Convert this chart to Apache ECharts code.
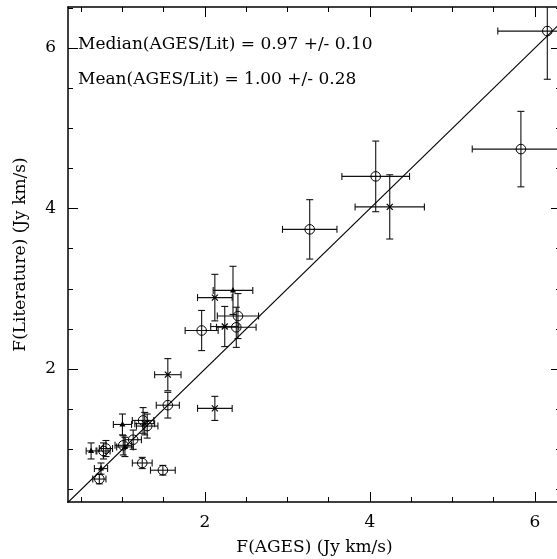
<!DOCTYPE html>
<html><head><meta charset="utf-8">
<script src="https://cdn.jsdelivr.net/npm/echarts@6/dist/echarts.min.js"></script>
<style>html,body{margin:0;padding:0;background:#fff}#c{width:557px;height:559px}</style>
</head><body><div id="c"></div>
<script>
// Data
const fAges  = [6.15, 5.83, 4.07, 4.24, 3.27, 2.34, 2.12, 2.40, 2.38, 2.24, 1.96, 1.55, 1.55, 2.12, 1.00, 1.25, 1.30, 1.27, 1.13, 1.01, 1.03, 0.80, 0.77, 0.62, 0.74, 0.72, 1.24, 1.49];
const fLit   = [6.21, 4.74, 4.40, 4.02, 3.74, 2.98, 2.89, 2.66, 2.52, 2.53, 2.48, 1.93, 1.55, 1.51, 1.31, 1.36, 1.29, 1.32, 1.12, 1.05, 1.03, 1.01, 0.98, 0.98, 0.76, 0.63, 0.83, 0.74];
const errAges= [0.60, 0.59, 0.41, 0.42, 0.33, 0.24, 0.21, 0.25, 0.24, 0.17, 0.20, 0.16, 0.14, 0.21, 0.11, 0.13, 0.13, 0.12, 0.10, 0.10, 0.10, 0.08, 0.08, 0.06, 0.08, 0.08, 0.12, 0.15];
const errLit = [0.60, 0.47, 0.44, 0.40, 0.37, 0.30, 0.29, 0.28, 0.25, 0.25, 0.25, 0.20, 0.16, 0.15, 0.13, 0.16, 0.15, 0.14, 0.12, 0.12, 0.12, 0.10, 0.10, 0.10, 0.07, 0.06, 0.07, 0.06];
const markerType = ['o','o','o','x','o','t','x','o','o','x','o','x','o','x','t','o','o','x','o','o','t','o','o','t','t','o','o','o'];
const oneToOne = [0, 7];
const majorTicks = [2, 4, 6];
const minorTicks = [0.5, 1, 1.5, 2.5, 3, 3.5, 4.5, 5, 5.5, 6.5];
const xRange = [0.34, 6.316];
const yRange = [0.344, 6.51];
const annotations = ['Median(AGES/Lit) = 0.97 +/- 0.10', 'Mean(AGES/Lit) = 1.00 +/- 0.28'];
const xTitle = 'F(AGES) (Jy km/s)';
const yTitle = 'F(Literature) (Jy km/s)';

const FONT = 'DejaVu Serif';
const typeCode = {o:0, x:1, t:2};
const pts = fAges.map((v,i)=>[v, fLit[i], errAges[i], errLit[i], typeCode[markerType[i]]]);

function axisSet(kind, pos, range, name){
  const common = {type:'value', min:range[0], max:range[1], position:pos, splitLine:{show:false}};
  const major = Object.assign({}, common, {
    axisLine:{show:true, lineStyle:{color:'#000', width:1.5}},
    axisTick:{show:true, inside:true, length:10, customValues:majorTicks, lineStyle:{color:'#000', width:1}},
    axisLabel:{show: pos==='bottom'||pos==='left', customValues:majorTicks, color:'#000', fontFamily:FONT, fontSize:17, margin:12},
  });
  if (name){
    major.name = name; major.nameLocation='middle'; major.nameGap = kind==='x'?37:39;
    major.nameTextStyle = {color:'#000', fontFamily:FONT, fontSize:17};
  }
  const minor = Object.assign({}, common, {
    axisLine:{show:false},
    axisTick:{show:true, inside:true, length:5, customValues:minorTicks, lineStyle:{color:'#000', width:1}},
    axisLabel:{show:false}
  });
  return [major, minor];
}

const chart = echarts.init(document.getElementById('c'), null, {renderer:'canvas'});
chart.setOption({
  animation:false,
  backgroundColor:'#fff',
  grid:{left:68, top:7, width:493, height:495, containLabel:false, outerBoundsMode:'none'},
  xAxis:[...axisSet('x','bottom',xRange,xTitle), ...axisSet('x','top',xRange,null)],
  yAxis:[...axisSet('y','left',yRange,yTitle), ...axisSet('y','right',yRange,null)],
  graphic:[
    {type:'text', left:78, top:36, style:{text:annotations[0], fontFamily:FONT, fontSize:17, fill:'#000'}},
    {type:'text', left:78, top:71, style:{text:annotations[1], fontFamily:FONT, fontSize:17, fill:'#000'}}
  ],
  series:[
    {type:'line', xAxisIndex:0, yAxisIndex:0, data:[[oneToOne[0],oneToOne[0]],[oneToOne[1],oneToOne[1]]],
     symbol:'none', clip:true, lineStyle:{color:'#000', width:1.2}},
    {type:'custom', xAxisIndex:0, yAxisIndex:0, clip:true, data:pts,
     renderItem:function(params, api){
       const x=api.value(0), y=api.value(1), xe=api.value(2), ye=api.value(3), t=api.value(4);
       const c=api.coord([x,y]), l=api.coord([x-xe,y]), r=api.coord([x+xe,y]);
       const tp=api.coord([x,y+ye]), bt=api.coord([x,y-ye]);
       const cap=3.5;
       const st={stroke:'#111', lineWidth:1.1, fill:null};
       const ch=[
         {type:'line', shape:{x1:l[0],y1:l[1],x2:r[0],y2:r[1]}, style:st},
         {type:'line', shape:{x1:tp[0],y1:tp[1],x2:bt[0],y2:bt[1]}, style:st},
         {type:'line', shape:{x1:l[0],y1:l[1]-cap,x2:l[0],y2:l[1]+cap}, style:st},
         {type:'line', shape:{x1:r[0],y1:r[1]-cap,x2:r[0],y2:r[1]+cap}, style:st},
         {type:'line', shape:{x1:tp[0]-cap,y1:tp[1],x2:tp[0]+cap,y2:tp[1]}, style:st},
         {type:'line', shape:{x1:bt[0]-cap,y1:bt[1],x2:bt[0]+cap,y2:bt[1]}, style:st}
       ];
       if (t===0){
         ch.push({type:'circle', shape:{cx:c[0],cy:c[1],r:4.8}, style:{stroke:'#000',lineWidth:1,fill:null}});
       } else if (t===1){
         const a=3;
         ch.push({type:'line', shape:{x1:c[0]-a,y1:c[1]-a,x2:c[0]+a,y2:c[1]+a}, style:{stroke:'#000',lineWidth:1.2}});
         ch.push({type:'line', shape:{x1:c[0]-a,y1:c[1]+a,x2:c[0]+a,y2:c[1]-a}, style:{stroke:'#000',lineWidth:1.2}});
       } else {
         ch.push({type:'polygon', shape:{points:[[c[0],c[1]-3.5],[c[0]-3,c[1]+2],[c[0]+3,c[1]+2]]}, style:{fill:'#000'}});
       }
       return {type:'group', children:ch};
     }}
  ]
});
</script></body></html>
